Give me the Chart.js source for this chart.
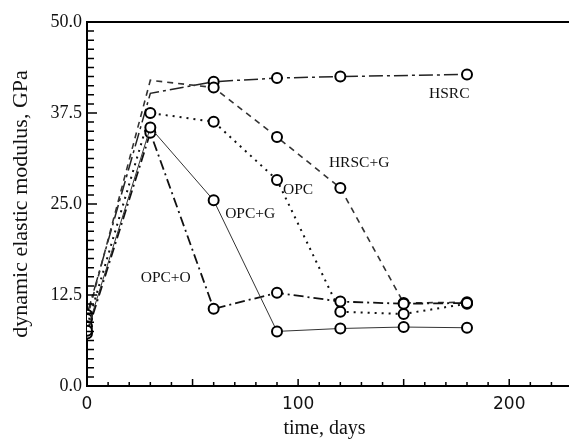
<!DOCTYPE html>
<html>
<head>
<meta charset="utf-8">
<script src="https://cdn.jsdelivr.net/npm/chart.js@4.4.0/dist/chart.umd.min.js"></script>
<style>
  html, body { margin: 0; padding: 0; background: #fff; }
  canvas { display: block; }
</style>
</head>
<body>
<canvas id="modulus-chart" width="569" height="441"></canvas>
<script>
// ages at test, days
var days = [0, 30, 60, 90, 120, 150, 180];

// dynamic elastic modulus, GPa
var hsrc  = [9.8, 40.2, 41.8, 42.3, 42.5, null, 42.8];
var hrscG = [9.2, 42.0, 41.0, 34.2, 27.2, 11.4, 11.5];
var opc   = [8.2, 37.5, 36.3, 28.3, 10.2, 9.9, 11.3];
var opcG  = [7.6, 35.5, 25.5, 7.5, 7.9, 8.1, 8.0];
var opcO  = [7.2, 34.8, 10.6, 12.8, 11.6, 11.3, 11.4];

var xTickLabels = [0, 100, 200];
var yTickLabels = [0, 12.5, 25, 37.5, 50];

// curve labels written on the plot
var labelTexts  = ['HSRC', 'HRSC+G', 'OPC', 'OPC+G', 'OPC+O'];
var labelDays   = [171.6, 128.9, 100, 77.3, 37.3];
var labelValues = [40.1, 30.6, 26.9, 23.6, 14.8];

function toPoints(values) {
    return days.map(function (d, i) {
        return { x: d, y: values[i] };
    });
}

// no circle drawn at the 30 day peak of these two
function noMarkerAt(idx) {
    return function (c) { return c.dataIndex === idx ? 0 : 5; };
}

function series(label, values, color, width, dash, radius) {
    return {
        label: label,
        data: toPoints(values),
        borderColor: color,
        borderWidth: width,
        borderDash: dash,
        pointRadius: radius || 5,
        pointBorderWidth: 2,
        pointBorderColor: '#000',
        pointBackgroundColor: '#fff',
        fill: false,
        tension: 0,
        spanGaps: true
    };
}

var serif = 'Liberation Serif, Times New Roman, serif';

var frameTicks = {
    id: 'frameTicks',
    afterDraw: function (chart) {
        var ctx = chart.ctx;
        var a = chart.chartArea;
        var xs = chart.scales.x, ys = chart.scales.y;
        ctx.save();
        ctx.strokeStyle = '#000';
        // top frame line and bottom axis run to the canvas edge
        ctx.lineWidth = 2;
        ctx.beginPath();
        ctx.moveTo(a.left, a.top);
        ctx.lineTo(chart.width, a.top);
        ctx.moveTo(a.right - 1, a.bottom);
        ctx.lineTo(chart.width, a.bottom);
        ctx.stroke();
        // inward ticks
        ctx.lineWidth = 1.5;
        ctx.beginPath();
        for (var d = 10; d <= 220; d += 10) {
            var px = xs.getPixelForValue(d);
            var len = d % 50 === 0 ? 7 : 4;
            ctx.moveTo(px, a.bottom);
            ctx.lineTo(px, a.bottom - len);
        }
        for (var k = 1; k < 40; k++) {
            var v = k * 1.25;
            var py = ys.getPixelForValue(v);
            var l = k % 10 === 0 ? 10 : 7;
            ctx.moveTo(a.left, py);
            ctx.lineTo(a.left + l, py);
        }
        ctx.stroke();
        // curve labels
        ctx.fillStyle = '#111';
        ctx.font = '15.5px ' + serif;
        ctx.textAlign = 'center';
        ctx.textBaseline = 'middle';
        for (var i = 0; i < labelTexts.length; i++) {
            ctx.fillText(labelTexts[i],
                xs.getPixelForValue(labelDays[i]),
                ys.getPixelForValue(labelValues[i]));
        }
        ctx.restore();
    }
};

var ctx = document.getElementById('modulus-chart').getContext('2d');
var chart = new Chart(ctx, {
    type: 'line',
    data: {
        datasets: [
            series('OPC+G', opcG, '#333', 1, []),
            series('OPC+O', opcO, '#111', 1.8, [10, 4, 2, 4]),
            series('OPC', opc, '#111', 2, [2, 5]),
            series('HRSC+G', hrscG, '#333', 1.6, [6, 5], noMarkerAt(1)),
            series('HSRC', hsrc, '#222', 1.5, [14, 4, 3, 4], noMarkerAt(1))
        ]
    },
    options: {
        responsive: false,
        animation: false,
        layout: { padding: { top: 22, right: 0, left: 0, bottom: 0 } },
        plugins: {
            legend: { display: false },
            tooltip: { enabled: false }
        },
        scales: {
            x: {
                type: 'linear',
                min: 0,
                max: 225,
                afterBuildTicks: function (scale) {
                    scale.ticks = xTickLabels.map(function (v) { return { value: v }; });
                },
                afterFit: function (scale) { scale.height = 55; },
                grid: { display: false, drawTicks: false },
                border: { display: true, color: '#000', width: 2 },
                ticks: {
                    color: '#111',
                    padding: 8,
                    maxRotation: 0,
                    font: { family: 'DejaVu Sans, sans-serif', size: 17 }
                },
                title: {
                    display: true,
                    text: 'time, days',
                    color: '#111',
                    padding: { top: 0, bottom: 0 },
                    font: { family: serif, size: 20 }
                }
            },
            y: {
                min: 0,
                max: 50,
                afterBuildTicks: function (scale) {
                    scale.ticks = yTickLabels.map(function (v) { return { value: v }; });
                },
                afterFit: function (scale) { scale.width = 87; },
                grid: { display: false, drawTicks: false },
                border: { display: true, color: '#000', width: 2 },
                ticks: {
                    color: '#111',
                    padding: 5,
                    font: { family: serif, size: 18 },
                    callback: function (v) { return v.toFixed(1); }
                },
                title: {
                    display: true,
                    text: 'dynamic elastic modulus, GPa',
                    color: '#111',
                    padding: { top: 8, bottom: 0 },
                    font: { family: serif, size: 22 }
                }
            }
        }
    },
    plugins: [frameTicks]
});
</script>
</body>
</html>
